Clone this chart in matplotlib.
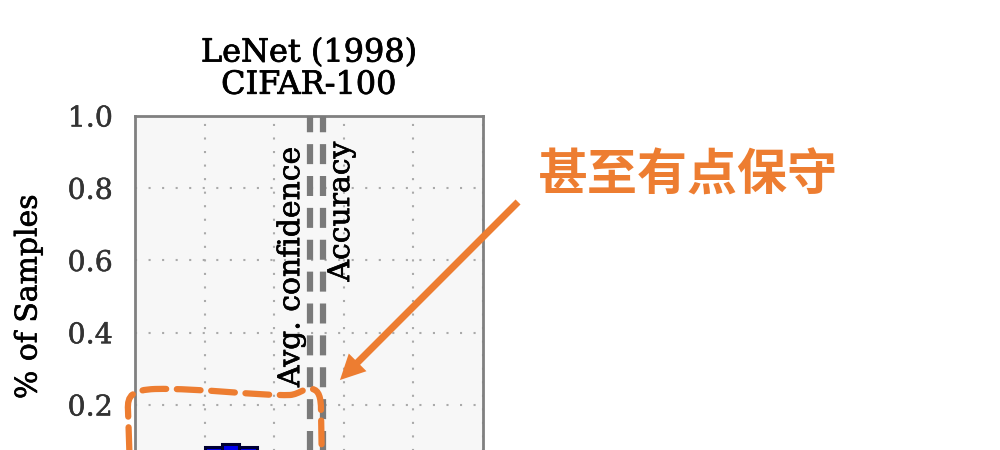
import matplotlib
matplotlib.use("Agg")
import matplotlib.pyplot as plt
import matplotlib.patheffects as pe
from matplotlib.path import Path
from matplotlib.patches import PathPatch, FancyArrowPatch

# ---- data ----
title_lines = ["LeNet (1998)", "CIFAR-100"]
bin_left = [0.20, 0.25, 0.30]
bin_width = 0.05
bin_height = [0.085, 0.092, 0.085]
avg_confidence = 0.503
accuracy = 0.540
yticks = [0.2, 0.4, 0.6, 0.8, 1.0]
ytick_labels = ["0.2", "0.4", "0.6", "0.8", "1.0"]
xticks = [0.0, 0.2, 0.4, 0.6, 0.8, 1.0]
ylabel = "% of Samples"
note = "甚至有点保守"

ORANGE = "#ED7D31"
SERIF = "DejaVu Serif"

W, H = 1000, 450
fig = plt.figure(figsize=(W / 100, H / 100), dpi=100)
fig.patch.set_facecolor("white")

def fx(px):
    return px / W

def fy(py):
    return 1 - py / H

def heavy(color="black", w=0.45):
    return [pe.withStroke(linewidth=w, foreground=color)]

left, right, top, bottom = 135, 483, 116, 477.25
ax = fig.add_axes([fx(left), fy(bottom), (right - left) / W, (bottom - top) / H])
ax.set_facecolor("#f7f7f7")
ax.set_xlim(0, 1)
ax.set_ylim(0, 1)

ax.bar(bin_left, bin_height, width=bin_width, align="edge",
       color="#0000ee", edgecolor="#000033", linewidth=2.2, zorder=3)

ax.axvline(avg_confidence, color="#7a7a7a", lw=4.5, ls=(0, (3.2, 1.9)), zorder=4)
ax.axvline(accuracy, color="#7a7a7a", lw=4.5, ls=(0, (3.2, 1.9)), zorder=4)

ax.text(avg_confidence - 0.014, 0.915, "Avg. confidence", rotation=90,
        ha="right", va="top", fontsize=21.5, family=SERIF, zorder=5,
        path_effects=heavy())
ax.text(accuracy + 0.012, 0.93, "Accuracy", rotation=90,
        ha="left", va="top", fontsize=21.5, family=SERIF, zorder=5,
        path_effects=heavy())

ax.set_xticks(xticks)
ax.set_xticklabels([])
ax.set_yticks(yticks)
ax.set_yticklabels(ytick_labels, family=SERIF, fontsize=20.5, color="#333333")
for lab in ax.get_yticklabels():
    lab.set_path_effects(heavy("#333333", 0.35))
ax.tick_params(axis="both", length=0, pad=16)
ax.grid(True, color="#aaaaaa", lw=1.5, ls=(0, (1, 5.5)), zorder=1)
ax.set_axisbelow(True)
for s in ax.spines.values():
    s.set_color("#808080")
    s.set_linewidth(2.0)

ax.set_ylabel(ylabel, family=SERIF, fontsize=21.5, labelpad=18,
              path_effects=heavy())
ax.set_title("\n".join(title_lines), family=SERIF, fontsize=23,
             linespacing=1.05, pad=16, path_effects=heavy(w=0.55))

# annotation text
fig.text(fx(688), fy(176), note, family=["Noto Sans CJK SC", "DejaVu Sans"],
         fontweight="bold", fontsize=36, color=ORANGE, ha="center", va="center")

# arrow
arrow = FancyArrowPatch((fx(520), fy(200)), (fx(338), fy(382)),
                        transform=fig.transFigure,
                        arrowstyle="simple,head_length=1.0,head_width=1.0,tail_width=0.28",
                        mutation_scale=18, color=ORANGE, lw=0, zorder=10)
fig.patches.append(arrow)

# dashed highlight loop
pts = [(130, 470), (128, 410),
       (127, 395), (133, 390), (155, 389),
       (200, 388), (260, 396), (290, 395),
       (300, 394), (303, 388), (312, 389),
       (319, 390), (321, 398), (321, 410),
       (322, 470)]
codes = [Path.MOVETO, Path.LINETO,
         Path.CURVE4, Path.CURVE4, Path.CURVE4,
         Path.CURVE4, Path.CURVE4, Path.CURVE4,
         Path.CURVE4, Path.CURVE4, Path.CURVE4,
         Path.CURVE4, Path.CURVE4, Path.CURVE4,
         Path.LINETO]
path = Path([(fx(x), fy(y)) for x, y in pts], codes)
loop = PathPatch(path, transform=fig.transFigure, fill=False, edgecolor=ORANGE,
                 lw=4.5, ls=(0, (3.8, 1.7)), capstyle="round", zorder=10)
fig.patches.append(loop)

fig.savefig("out.png", dpi=100)
